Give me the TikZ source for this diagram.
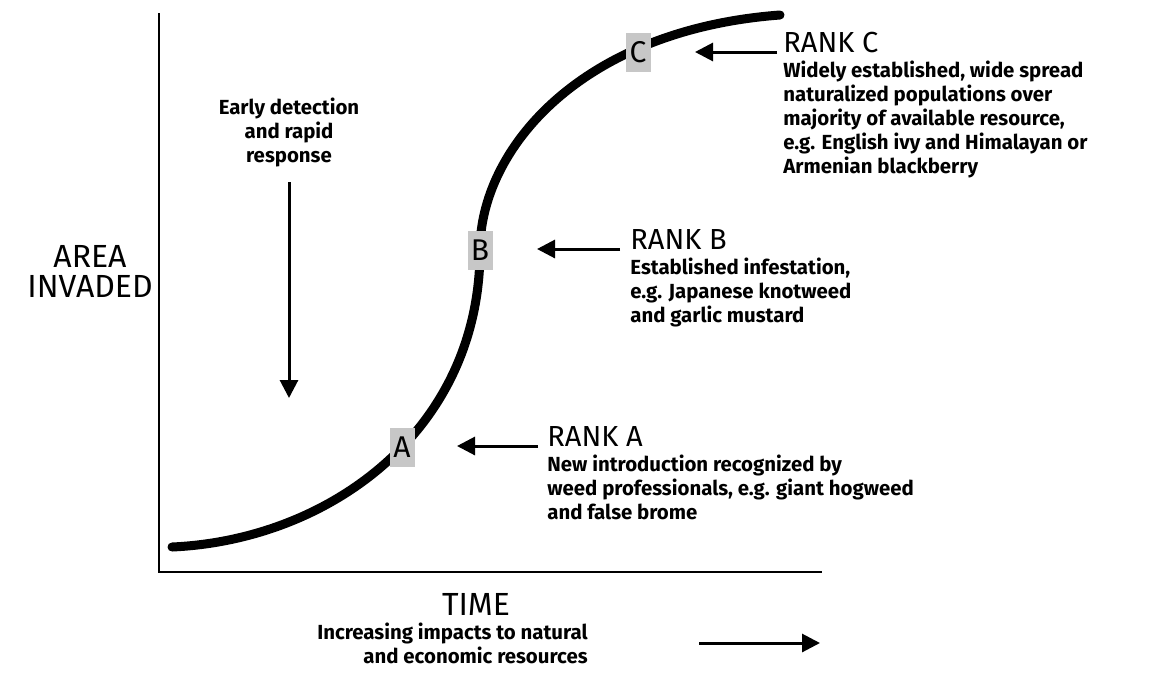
\documentclass[tikz,border=0pt]{standalone}
\usepackage{fontspec}
\setmainfont{Fira Sans}
\usetikzlibrary{arrows.meta}

\begin{document}
\begin{tikzpicture}[x = 0.5pt, y = -0.5pt, > = {Triangle[length = 9pt, width = 9pt]},
	rank/.style = {anchor = base west, inner sep = 0, font = \fontsize{14.5}{15}\selectfont},
	note/.style = {anchor = north west, inner sep = 0, align = left, font = \fontsize{10.2}{12}\selectfont\bfseries},
	axislabel/.style = {inner sep = 0, font = \fontsize{16}{15}\selectfont},
	tag/.style = {fill = black!22, inner sep = 0, minimum width = 12.5pt, minimum height = 19.5pt, font = \fontsize{15}{15}\selectfont},
	pointer/.style = {->, line width = 1.5pt}]

	\useasboundingbox (0, 0) rectangle (1156, 675);

	% Axes

	\draw [line width = 1pt] (159, 13) coordinate (top) -- (159, 572) coordinate (origin) -- (822, 572) coordinate (right);

	\node [axislabel, align = center, anchor = north] (area) at (90, 245) {AREA\\INVADED};
	\node [axislabel, anchor = base] (time) at (476, 615) {TIME};

	\node [note, anchor = north east, align = right] (impact) at (588, 623) {Increasing impacts to natural\\and economic resources};
	\coordinate (impacttail) at (699, 643);
	\coordinate (impacttip) at (820, 643);
	\draw [pointer] (impacttail) -- (impacttip);

	% Invasion curve

	\draw [line width = 4.5pt, line cap = round] (172, 547) .. controls (330, 540) and (480, 430) .. (480, 250) .. controls (480, 150) and (580, 30) .. (780, 15);

	\node [tag] (tagA) at (402, 447) {A};
	\node [tag] (tagB) at (480, 250) {B};
	\node [tag] (tagC) at (638, 52) {C};

	% Early detection label

	\node [note, anchor = north, align = center] (early) at (289, 98) {Early detection\\and rapid\\response};
	\coordinate (earlytail) at (289, 182);
	\coordinate (earlytip) at (289, 398);
	\draw [pointer] (earlytail) -- (earlytip);

	% Rank A

	\node [rank] (rankA) at (547, 446) {RANK A};
	\node [note] (noteA) at (547, 455) {New introduction recognized by\\weed professionals, e.g. giant hogweed\\and false brome};
	\coordinate (tailA) at (538, 446);
	\coordinate (tipA) at (457, 446);
	\draw [pointer] (tailA) -- (tipA);

	% Rank B

	\node [rank] (rankB) at (630, 249) {RANK B};
	\node [note] (noteB) at (630, 258) {Established infestation,\\e.g. Japanese knotweed\\and garlic mustard};
	\coordinate (tailB) at (620, 249);
	\coordinate (tipB) at (537, 249);
	\draw [pointer] (tailB) -- (tipB);

	% Rank C

	\node [rank] (rankC) at (783, 52) {RANK C};
	\node [note] (noteC) at (783, 61) {Widely established, wide spread\\naturalized populations over\\majority of available resource,\\e.g. English ivy and Himalayan or\\Armenian blackberry};
	\coordinate (tailC) at (777, 52);
	\coordinate (tipC) at (695, 52);
	\draw [pointer] (tailC) -- (tipC);

\end{tikzpicture}
\end{document}
